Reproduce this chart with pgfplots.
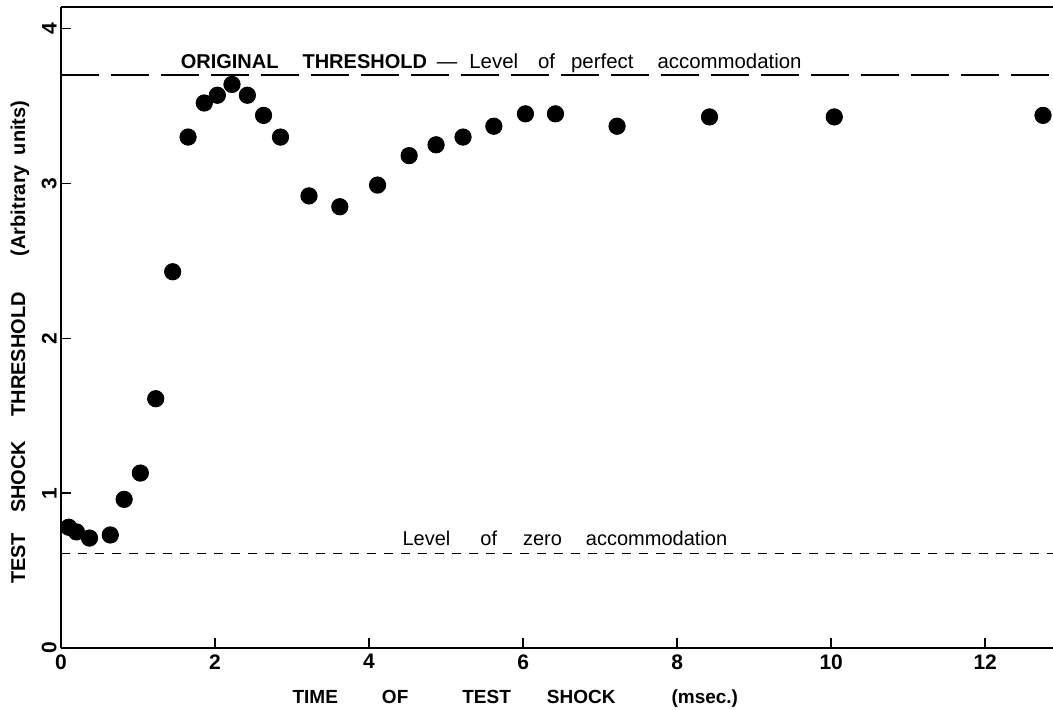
\documentclass[border=0pt]{standalone}
\usepackage{fontspec}
\setmainfont{Liberation Sans}
\usepackage{pgfplots}
\pgfplotsset{compat=1.18}

% threshold measurements (time in msec, threshold in arbitrary units)
\pgfplotstableread{
t     thr
0.10  0.78
0.20  0.75
0.37  0.71
0.64  0.73
0.82  0.96
1.03  1.13
1.23  1.61
1.45  2.43
1.65  3.30
1.86  3.52
2.03  3.57
2.22  3.64
2.42  3.57
2.63  3.44
2.85  3.30
3.22  2.92
3.62  2.85
4.11  2.99
4.52  3.18
4.87  3.25
5.22  3.30
5.62  3.37
6.03  3.45
6.42  3.45
7.22  3.37
8.42  3.43
10.04 3.43
12.75 3.44
}\shockdata

\begin{document}
\begin{tikzpicture}
\begin{axis}[
    name=ax,
    scale only axis,
    width=496pt,
    height=320.5pt,
    xmin=0, xmax=12.88,
    ymin=0, ymax=4.14,
    axis x line*=box,
    axis y line*=left,
    axis line style={line width=1pt},
    xtick={0,2,...,12},
    ytick={0,1,2,3,4},
    xtick pos=left,
    ytick pos=left,
    tick align=inside,
    major tick length=5pt,
    tick style={line width=0.8pt, black},
    /pgf/number format/assume math mode=true,
    tick label style={font=\bfseries\fontsize{10.5}{12}\selectfont},
    yticklabel style={rotate=90, anchor=south, inner sep=2pt},
    xticklabel style={inner sep=2pt, yshift=-1pt},
    every axis x label/.style={at={(axis description cs:0.458,0)}, yshift=-27.5pt, anchor=base},
    every axis y label/.style={at={(axis description cs:0,0.477)}, xshift=-20.5pt, rotate=90, anchor=center},
    xlabel style={font=\bfseries\fontsize{9.5}{11}\selectfont},
    ylabel style={font=\bfseries\fontsize{10}{12}\selectfont},
    xlabel={TIME\hspace{22pt}OF\hspace{27pt}TEST\hspace{18pt}SHOCK\hspace{28pt}(msec.)},
    ylabel={TEST\hspace{10pt}SHOCK\hspace{12pt}THRESHOLD\hspace{18pt}(Arbitrary\hspace{5pt}units)},
]
% level of perfect accommodation
\addplot[black, line width=1pt, dash pattern=on 19pt off 6pt] coordinates {(0,3.70) (12.88,3.70)};
% level of zero accommodation
\addplot[black, line width=0.6pt, dash pattern=on 4.5pt off 4pt] coordinates {(0,0.61) (12.88,0.61)};
\addplot[only marks, mark=*, mark size=4.1pt, black] table[x=t, y=thr] {\shockdata};

\node[anchor=base west, inner sep=0pt] at (axis cs:1.55,3.74)
  {\bfseries\fontsize{10}{12}\selectfont ORIGINAL\hspace{12pt}THRESHOLD\hspace{5pt}\mdseries\fontsize{10.2}{12}\selectfont ---\hspace{6pt}Level\hspace{10pt}of\hspace{8pt}perfect\hspace{12pt}accommodation};
\node[anchor=base west, inner sep=0pt] at (axis cs:4.43,0.665)
  {\fontsize{10}{12}\selectfont Level\hspace{15pt}of\hspace{13pt}zero\hspace{12pt}accommodation};
\end{axis}
\pgfresetboundingbox
\path[use as bounding box] ([shift={(-30.5pt,-30.5pt)}]ax.south west) rectangle ([shift={(0pt,3.5pt)}]ax.north east);
\end{tikzpicture}
\end{document}
